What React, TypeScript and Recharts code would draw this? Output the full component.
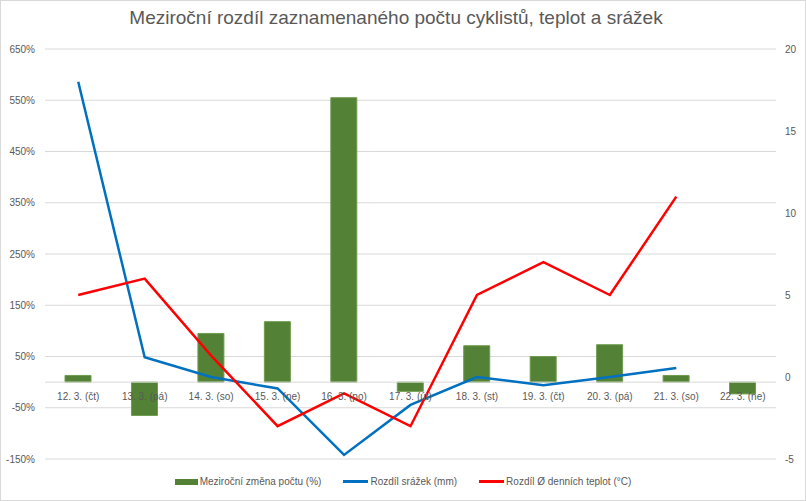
import React from 'react';
import {
  ComposedChart,
  Bar,
  Line,
  XAxis,
  YAxis,
  CartesianGrid,
  ReferenceLine,
  Legend,
} from 'recharts';

const days = [
  '12. 3. (čt)',
  '13. 3. (pá)',
  '14. 3. (so)',
  '15. 3. (ne)',
  '16. 3. (po)',
  '17. 3. (út)',
  '18. 3. (st)',
  '19. 3. (čt)',
  '20. 3. (pá)',
  '21. 3. (so)',
  '22. 3. (ne)',
];
const countChange = [13, -65, 95, 118, 555, -18, 71, 50, 73, 13, -23];
const rainDiff = [18.0, 1.2, 0.0, -0.7, -4.75, -1.7, 0.0, -0.5, 0.0, 0.55, null];
const tempDiff = [5, 6, 1.3, -3, -1, -3, 5, 7, 5, 11, null];

const leftTicks = [-150, -50, 50, 150, 250, 350, 450, 550, 650];
const rightTicks = [-5, 0, 5, 10, 15, 20];

const data = days.map((d, i) => ({
  day: d,
  count: countChange[i],
  rain: rainDiff[i],
  temp: tempDiff[i],
}));

const FONT = '"Liberation Sans", Arial, sans-serif';
const GREY = '#595959';

const DayTick = (props: any) => {
  const { x, y, payload } = props;
  return (
    <text x={x} y={y - 67} textAnchor="middle" fill={GREY} fontSize={10} fontFamily={FONT}>
      {payload.value}
    </text>
  );
};

const legendItems = [
  { label: 'Meziroční změna počtu (%)', color: '#538135', kind: 'bar' },
  { label: 'Rozdíl srážek (mm)', color: '#0070c0', kind: 'line' },
  { label: 'Rozdíl Ø denních teplot (°C)', color: '#ff0000', kind: 'line' },
];

const ChartLegend = () => (
  <div style={{ display: 'flex', justifyContent: 'center', gap: 22, fontFamily: FONT, fontSize: 10, color: GREY }}>
    {legendItems.map((it) => (
      <div key={it.label} style={{ display: 'flex', alignItems: 'center' }}>
        <span
          style={{
            display: 'inline-block',
            width: it.kind === 'bar' ? 23 : 25,
            height: it.kind === 'bar' ? 6 : 2.5,
            background: it.color,
            marginRight: 2,
          }}
        />
        <span>{it.label}</span>
      </div>
    ))}
  </div>
);

export default function App() {
  return (
    <div
      style={{
        position: 'absolute',
        left: 0,
        top: 0,
        width: 806,
        height: 501,
        background: '#fff',
        border: '1px solid #d9d9d9',
        boxSizing: 'border-box',
      }}
    >
      <div
        style={{
          position: 'absolute',
          top: 6,
          left: 0,
          width: 790,
          textAlign: 'center',
          fontFamily: FONT,
          fontSize: 19,
          color: GREY,
        }}
      >
        Meziroční rozdíl zaznamenaného počtu cyklistů, teplot a srážek
      </div>
      <ComposedChart
        width={806}
        height={501}
        data={data}
        margin={{ top: 49, right: 0, bottom: 0, left: 0 }}
        barSize={26}
        style={{ position: 'absolute', left: -1, top: -1 }}
      >
        <CartesianGrid yAxisId="left" vertical={false} stroke="#d9d9d9" ticks={leftTicks} />
        <XAxis
          dataKey="day"
          height={42}
          axisLine={false}
          tickLine={false}
          interval={0}
          tick={<DayTick />}
        />
        <YAxis
          yAxisId="left"
          orientation="left"
          width={45}
          domain={[-150, 650]}
          ticks={leftTicks}
          tickFormatter={(v) => `${v}%`}
          axisLine={false}
          tickLine={false}
          tickMargin={4}
          tick={{ fill: GREY, fontSize: 10, fontFamily: FONT }}
        />
        <YAxis
          yAxisId="right"
          orientation="right"
          width={30}
          domain={[-5, 20]}
          ticks={rightTicks}
          axisLine={false}
          tickLine={false}
          tickMargin={3}
          tick={{ fill: GREY, fontSize: 10, fontFamily: FONT }}
        />
        <ReferenceLine yAxisId="left" y={0} stroke="#d9d9d9" />
        <Bar
          yAxisId="left"
          dataKey="count"
          fill="#538135"
          stroke="#6e9c4e"
          strokeWidth={1}
          isAnimationActive={false}
        />
        <Line
          yAxisId="right"
          type="linear"
          dataKey="rain"
          stroke="#0070c0"
          strokeWidth={2.5}
          dot={false}
          isAnimationActive={false}
        />
        <Line
          yAxisId="right"
          type="linear"
          dataKey="temp"
          stroke="#ff0000"
          strokeWidth={2.5}
          dot={false}
          isAnimationActive={false}
        />
        <Legend
          layout="horizontal"
          verticalAlign="middle"
          align="center"
          wrapperStyle={{ top: 476, left: 0, width: 806 }}
          content={<ChartLegend />}
        />
      </ComposedChart>
    </div>
  );
}
